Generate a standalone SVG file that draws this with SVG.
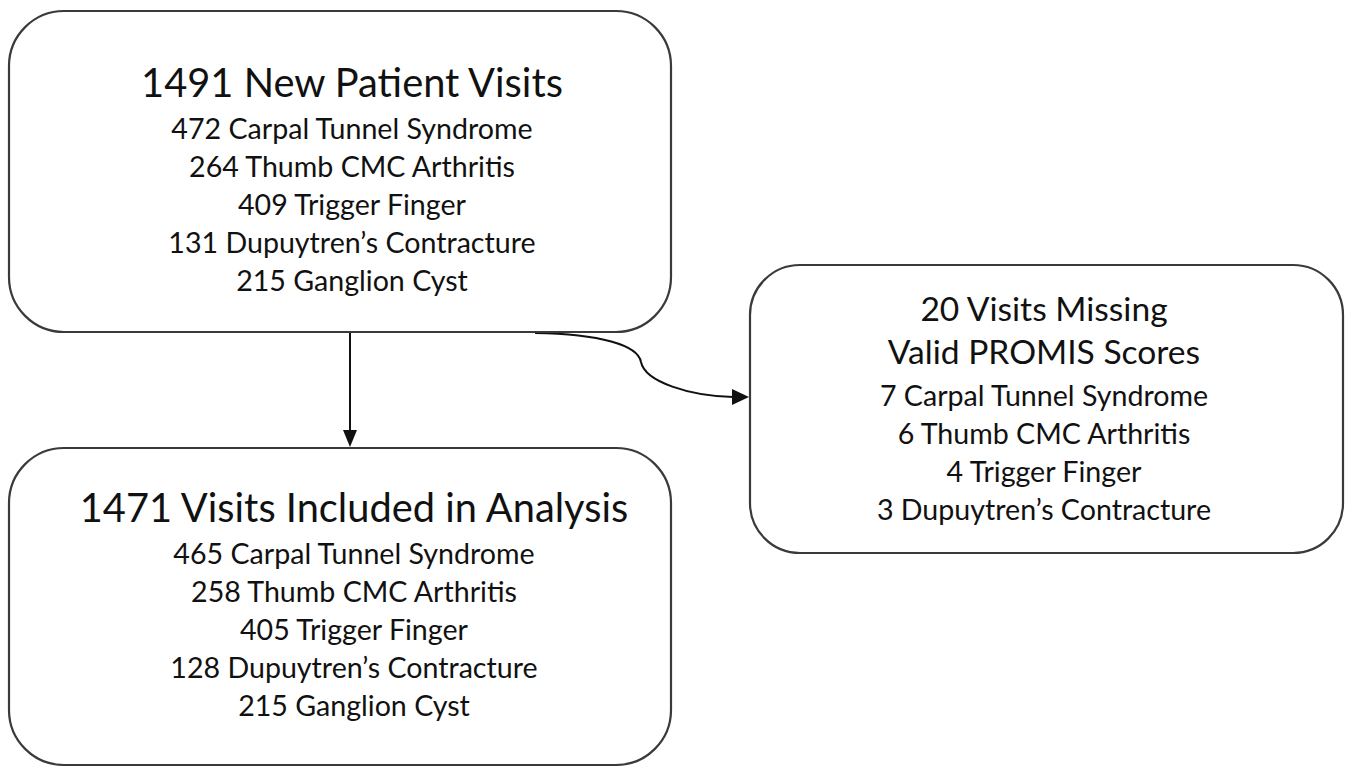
<svg xmlns="http://www.w3.org/2000/svg" width="1351" height="768" viewBox="0 0 1351 768">
<style>
.box{fill:#fff;stroke:#3a3a3a;stroke-width:2.2}
.t{font-family:Lato,"Open Sans","Liberation Sans",sans-serif;fill:#111;text-anchor:middle}
.h{font-size:39.8px}
.h3{font-size:33.6px}
.l{font-size:28.6px}
.l3{font-size:28.6px}
.c{fill:none;stroke:#111;stroke-width:2}
</style>
<rect width="1351" height="768" fill="#fff"/>
<g id="connectors">
<line class="c" x1="350" y1="332" x2="350" y2="431"/>
<path d="M343,430 L357,430 L350,447 z" fill="#111"/>
<path class="c" d="M535,333 C600,334 638,345 641,362 C645,382 690,396 733,397"/>
<path d="M732,389 L749,397 L732,405 z" fill="#111"/>
</g>
<g id="node-new">
<rect class="box" x="9" y="11" width="662" height="321" rx="55"/>
<text class="t h" x="352" y="97">1491 New Patient Visits</text>
<text class="t l" x="352" y="139">472 Carpal Tunnel Syndrome</text>
<text class="t l" x="352" y="177">264 Thumb CMC Arthritis</text>
<text class="t l" x="352" y="215">409 Trigger Finger</text>
<text class="t l" x="352" y="253">131 Dupuytren’s Contracture</text>
<text class="t l" x="352" y="291">215 Ganglion Cyst</text>
</g>
<g id="node-included">
<rect class="box" x="9" y="448" width="662" height="317" rx="55"/>
<text class="t h" x="354" y="522">1471 Visits Included in Analysis</text>
<text class="t l" x="354" y="564">465 Carpal Tunnel Syndrome</text>
<text class="t l" x="354" y="602">258 Thumb CMC Arthritis</text>
<text class="t l" x="354" y="640">405 Trigger Finger</text>
<text class="t l" x="354" y="678">128 Dupuytren’s Contracture</text>
<text class="t l" x="354" y="716">215 Ganglion Cyst</text>
</g>
<g id="node-missing">
<rect class="box" x="750" y="265" width="593" height="288" rx="50"/>
<text class="t h3" x="1044" y="321">20 Visits Missing</text>
<text class="t h3" x="1044" y="364">Valid PROMIS Scores</text>
<text class="t l3" x="1044" y="406">7 Carpal Tunnel Syndrome</text>
<text class="t l3" x="1044" y="444">6 Thumb CMC Arthritis</text>
<text class="t l3" x="1044" y="482">4 Trigger Finger</text>
<text class="t l3" x="1044" y="520">3 Dupuytren’s Contracture</text>
</g>
</svg>
